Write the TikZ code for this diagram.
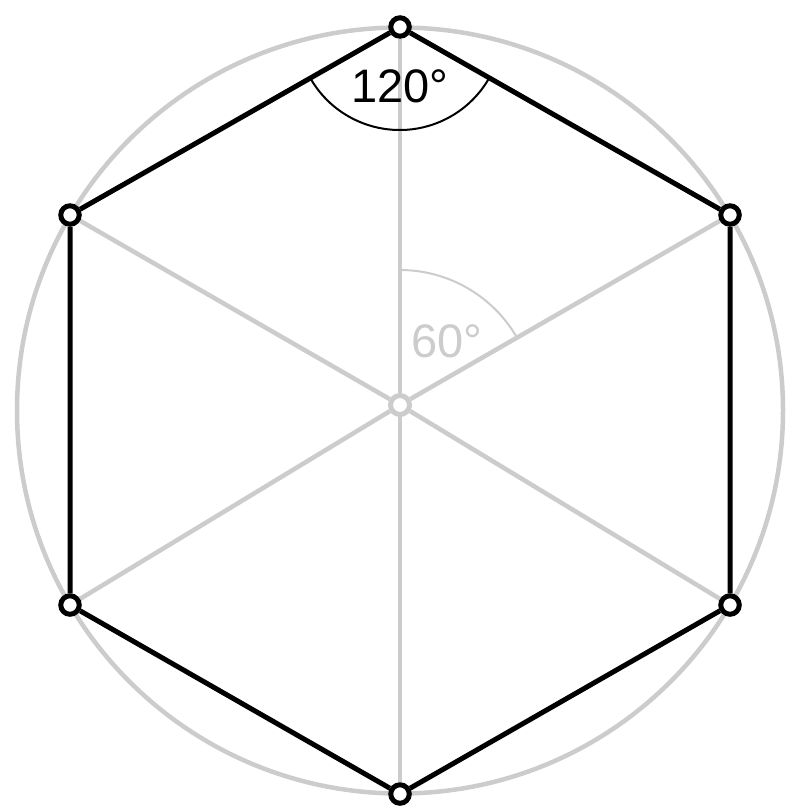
\documentclass[tikz,border=0pt]{standalone}
\usepackage{fontspec}
\setmainfont{Liberation Sans}
\definecolor{lightgray}{RGB}{204,204,204}
\pgfdeclarelayer{bg}
\pgfsetlayers{bg,main}
\begin{document}
\begin{tikzpicture}[x=1pt,y=-1pt,
  vert/.style={circle,draw=black,fill=white,line width=5pt,minimum size=18.5pt,inner sep=0pt},
  ctr/.style={circle,draw=lightgray,fill=white,line width=5pt,minimum size=19pt,inner sep=0pt},
  edge/.style={draw=black,line width=5pt},
  spoke/.style={draw=lightgray,line width=4.5pt},
  lbl/.style={font=\fontsize{47}{50}\selectfont,inner sep=0pt,anchor=base}]
\useasboundingbox (0,0) rectangle (800,811);
\node[vert] (t) at (400,27) {};
\node[vert] (ur) at (730,215) {};
\node[vert] (lr) at (730,605) {};
\node[vert] (b) at (400,794) {};
\node[vert] (ll) at (70,605) {};
\node[vert] (ul) at (70,215) {};
\node[ctr] (c) at (400,405) {};
\begin{pgfonlayer}{bg}
  \fill[white] (0,0) rectangle (800,811);
  \draw[draw=lightgray,line width=4.5pt] (400,410.5) circle[radius=383];
  \foreach \v in {t,ur,lr,b,ll,ul} \draw[spoke] (c) -- (\v);
  \draw[draw=lightgray,line width=2pt] (400,270) arc[start angle=270,end angle=330,radius=135];
  \draw[draw=black,line width=2pt] (310.5,78.5) arc[start angle=150,end angle=30,radius=103];
\end{pgfonlayer}
\draw[edge,line join=round] (t) -- (ur) (ur) -- (lr) (lr) -- (b) (b) -- (ll) (ll) -- (ul) (ul) -- (t);
\node[lbl] (a120) at (400,102) {120°};
\node[lbl,text=lightgray] (a60) at (447,357) {60°};
\end{tikzpicture}
\end{document}
